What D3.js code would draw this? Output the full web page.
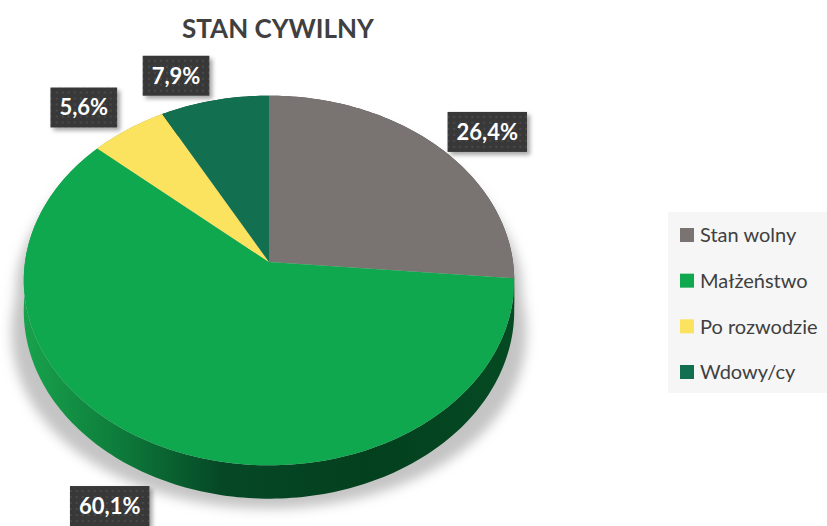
<!DOCTYPE html>
<html lang="pl">
<head>
  <meta charset="UTF-8" />
  <title>Stan cywilny</title>
  <style>
    body { margin: 0; background: #fff; overflow: hidden; }
    svg { display: block; font-family: Lato, "Open Sans", sans-serif; }
  </style>
</head>
<body>
  <svg id="chart" width="827" height="526"></svg>

  <script src="https://d3js.org/d3.v7.min.js"></script>
  <script>
    // data
    const categories = ["Stan wolny", "Małżeństwo", "Po rozwodzie", "Wdowy/cy"];
    const values = [26.4, 60.1, 5.6, 7.9];
    const valueLabels = ["26,4%", "60,1%", "5,6%", "7,9%"];
    const colors = ["#797472", "#10a84f", "#fbe35f", "#127050"];
    const sideColors = ["#4a4644", "url(#sideGrad)", "#b8a43a", "#0a4a33"];

    const svg = d3.select("#chart");
    const defs = svg.append("defs");

    // pie geometry (3d tilt with a touch of perspective)
    const cx = 269, cy = 262, rx = 244, ry = 183, k = 0.1, depth = 30;
    function proj(theta, r, dz) {
      const u = r * Math.sin(theta), v = -r * Math.cos(theta);
      const s = 1 / (1 - k * v);
      return [cx + rx * u * s, cy + ry * v * s + dz * s];
    }
    function arcPts(a0, a1, r, dz) {
      const n = Math.max(2, Math.ceil((a1 - a0) / 0.02));
      return d3.range(n + 1).map(i => proj(a0 + (a1 - a0) * i / n, r, dz));
    }
    const line = d3.line();

    // gradients / filters
    const g1 = defs.append("linearGradient").attr("id", "sideGrad")
      .attr("gradientUnits", "userSpaceOnUse")
      .attr("x1", cx - rx).attr("x2", cx + rx).attr("y1", 0).attr("y2", 0);
    [[0, "#18a24c"], [0.2, "#0d7a3a"], [0.4, "#064826"], [0.7, "#03401e"], [1, "#054a23"]]
      .forEach(([o, c]) => g1.append("stop").attr("offset", o).attr("stop-color", c));

    defs.append("filter").attr("id", "blur").attr("x", "-20%").attr("y", "-20%")
      .attr("width", "140%").attr("height", "140%")
      .append("feGaussianBlur").attr("stdDeviation", 6);

    const ds = defs.append("filter").attr("id", "boxShadow")
      .attr("x", "-20%").attr("y", "-20%").attr("width", "150%").attr("height", "160%");
    ds.append("feDropShadow").attr("dx", 3).attr("dy", 3).attr("stdDeviation", 2)
      .attr("flood-color", "#000").attr("flood-opacity", 0.35);

    const pat = defs.append("pattern").attr("id", "dots")
      .attr("width", 6).attr("height", 6).attr("patternUnits", "userSpaceOnUse");
    pat.append("rect").attr("width", 6).attr("height", 6).attr("fill", "#393939");
    pat.append("circle").attr("cx", 3).attr("cy", 3).attr("r", 0.9).attr("fill", "#4f4f4f");

    const arcs = d3.pie().sort(null).value(d => d)(values);

    // soft shadow, widening towards the bottom
    const silhouette = arcPts(Math.PI / 2, 3 * Math.PI / 2, 1, depth)
      .concat(arcPts(3 * Math.PI / 2, 5 * Math.PI / 2, 1, 0));
    const shadowPts = silhouette.map(([x, y]) => {
      const f = 1 + 0.075 * Math.max(0, (y - 170) / 220);
      return [cx + (x - cx) * f, y + 10];
    });
    svg.append("path")
      .attr("d", line(shadowPts) + "Z")
      .attr("fill", "#c4c4c4")
      .attr("filter", "url(#blur)");

    // outer walls
    svg.append("g").selectAll("path")
      .data(arcs)
      .join("path")
      .attr("d", d => {
        const top = arcPts(d.startAngle, d.endAngle, 1, 0);
        const bot = arcPts(d.startAngle, d.endAngle, 1, depth).reverse();
        return line(top.concat(bot)) + "Z";
      })
      .attr("fill", (d, i) => sideColors[i]);

    // top faces
    svg.append("g").selectAll("path")
      .data(arcs)
      .join("path")
      .attr("d", d => line([proj(0, 0, 0)].concat(arcPts(d.startAngle, d.endAngle, 1, 0))) + "Z")
      .attr("fill", (d, i) => colors[i]);

    // title
    svg.append("text")
      .attr("x", 278).attr("y", 38)
      .attr("text-anchor", "middle")
      .attr("font-size", 26).attr("font-weight", 700)
      .attr("fill", "#404040")
      .text("STAN CYWILNY");

    // value labels: placed outside the slice, best-fit style
    const labelR = [1.23, 1.31, 1.24, 1.21];
    const labelTurn = [0.07, 0.05, -0.06, -0.11];
    const lab = svg.append("g").selectAll("g")
      .data(arcs)
      .join("g")
      .attr("transform", (d, i) => {
        const mid = (d.startAngle + d.endAngle) / 2 + labelTurn[i];
        const [x, y] = proj(mid, labelR[i], 0);
        return `translate(${x},${y})`;
      });
    lab.append("text")
      .attr("text-anchor", "middle")
      .attr("dy", "0.36em")
      .attr("font-size", 22).attr("font-weight", 700)
      .attr("fill", "#fff")
      .text((d, i) => valueLabels[i]);
    lab.insert("rect", "text")
      .each(function () {
        const bb = this.parentNode.querySelector("text").getBBox();
        d3.select(this)
          .attr("x", -bb.width / 2 - 9).attr("y", -20)
          .attr("width", bb.width + 18).attr("height", 40);
      })
      .attr("fill", "url(#dots)")
      .attr("filter", "url(#boxShadow)");

    // legend
    svg.append("rect")
      .attr("x", 668).attr("y", 212).attr("width", 180).attr("height", 181)
      .attr("fill", "#f6f6f6");
    const ly = d3.scalePoint().domain(categories).range([235, 372]);
    const leg = svg.append("g").selectAll("g")
      .data(categories)
      .join("g")
      .attr("transform", d => `translate(680,${ly(d)})`);
    leg.append("rect")
      .attr("x", 0).attr("y", -7).attr("width", 14).attr("height", 14)
      .attr("fill", (d, i) => colors[i]);
    leg.append("text")
      .attr("x", 20).attr("dy", "0.36em")
      .attr("font-size", 20).attr("fill", "#404040")
      .text(d => d);
  </script>
</body>
</html>
